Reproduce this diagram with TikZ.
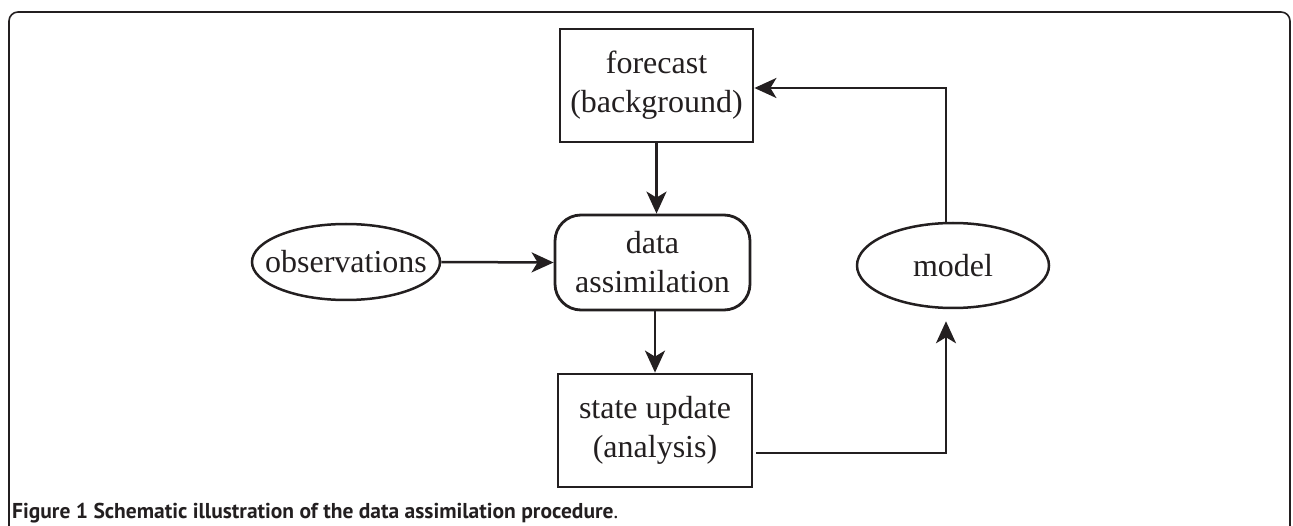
\documentclass[tikz,border=0pt]{standalone}
\usepackage{fontspec}
\setmainfont{Liberation Serif}
\newfontfamily\capfont{PT Sans}
\usetikzlibrary{shapes.geometric, arrows.meta}
\definecolor{inkgray}{HTML}{231F20}

\begin{document}
\begin{tikzpicture}[x=1pt, y=-1pt,
    box/.style={draw=inkgray, line width=2.8pt, rectangle, minimum width=193pt, minimum height=113pt, align=center, font=\fontsize{32}{39}\selectfont, text=inkgray},
    roundbox/.style={box, rounded corners=26pt, minimum width=195pt, minimum height=95pt},
    oval/.style={draw=inkgray, line width=2.5pt, ellipse, inner sep=0pt, font=\fontsize{32}{39}\selectfont, text=inkgray},
    flow/.style={draw=inkgray, line width=2.5pt, -{Stealth[length=22pt, width=20pt, inset=6pt]}}]
    % Fix the page size
    \useasboundingbox (0,0) rectangle (1293,526);

    % Outer frame
    \draw[inkgray, line width=1.6pt, rounded corners=9pt] (9,560) -- (9,12) -- (1290,12) -- (1290,560);

    % Draw the boxes and ellipses
    \node[box] (Forecast) at (656.5,85.5) {forecast\\(background)};
    \node[roundbox] (Assim) at (652.5,262.5) {data\\assimilation};
    \node[box, minimum width=194pt] (Update) at (655,430.5) {state update\\(analysis)};
    \node[oval, minimum width=188pt, minimum height=76pt] (Obs) at (346,262) {\makebox[0pt]{observations}};
    \node[oval, minimum width=192pt, minimum height=85pt] (Model) at (953,265.5) {\makebox[0pt]{model}};

    % Corner points of the loop
    \coordinate (C1) at (946,453);
    \coordinate (C2) at (946,88);

    % Connect them
    \draw[flow] (Forecast.south) -- (Forecast.south |- Assim.north);
    \draw[flow] (Obs.east) -- (Assim.west);
    \draw[flow] (Assim.south -| Update.north) -- (Update.north);
    \draw[flow, shorten >=12pt] ([xshift=3pt]Update.east |- C1) -- (C1) -- (C1 |- Model.south);
    \draw[flow] (C2 |- Model.north) -- (C2) -- (Forecast.east |- C2);

    % Caption
    \node[anchor=base west, inner sep=0pt, text=inkgray, font=\capfont\fontsize{21.5}{25}\selectfont] (Caption) at (12,518)
        {\textbf{Figure 1 Schematic illustration of the data assimilation procedure}.};

\end{tikzpicture}
\end{document}
